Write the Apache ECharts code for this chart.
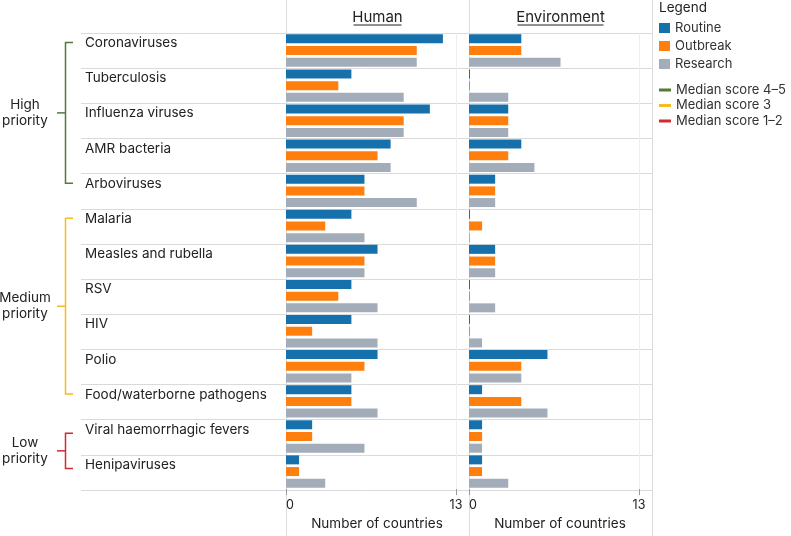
<!DOCTYPE html>
<html>
<head>
<meta charset="utf-8">
<script src="https://cdn.jsdelivr.net/npm/echarts@6/dist/echarts.min.js"></script>
<style>
html,body{margin:0;padding:0;background:#fff;}
#chart{width:791px;height:536px;}
</style>
</head>
<body>
<div id="chart"></div>
<script>
const categories = ['Coronaviruses','Tuberculosis','Influenza viruses','AMR bacteria','Arboviruses','Malaria','Measles and rubella','RSV','HIV','Polio','Food/waterborne pathogens','Viral haemorrhagic fevers','Henipaviruses'];
const humanRoutine  = [12,5,11,8,6,5,7,5,5,7,5,2,1];
const humanOutbreak = [10,4,9,7,6,3,6,4,2,6,5,2,1];
const humanResearch = [10,9,9,8,10,6,6,7,7,5,7,6,3];
const envRoutine    = [4,0,3,4,2,0,2,0,0,6,1,1,1];
const envOutbreak   = [4,0,3,3,2,1,2,0,0,4,4,1,1];
const envResearch   = [7,3,3,5,2,0,2,2,1,4,6,1,3];
const xTicks = [0, 13];
const panelTitles = ['Human', 'Environment'];
const seriesNames = ['Routine','Outbreak','Research'];
const medianNames = ['Median score 4–5','Median score 3','Median score 1–2'];
const priorityGroups = [
  {label:'High\npriority', from:'Coronaviruses', to:'Arboviruses', color:'#557a36', off:-8},
  {label:'Medium\npriority', from:'Malaria', to:'Food/waterborne pathogens', color:'#f5bd1f', off:-8},
  {label:'Low\npriority', from:'Viral haemorrhagic fevers', to:'Henipaviruses', color:'#d12a2f', off:-4}
];

const FONT = 'Inter';
const TXT = '#222';
const colors = ['#1570ab','#ff7f0e','#a3acb9'];
const chart = echarts.init(document.getElementById('chart'));

function xAxisFor(grid){
  return {
    gridIndex: grid, type:'value', min:xTicks[0], max:xTicks[1], interval:xTicks[1]-xTicks[0],
    axisLine:{show:false},
    axisTick:{show:true, length:6, lineStyle:{color:'#999'}},
    splitLine:{show:true, lineStyle:{color:'#eeeeee'}},
    axisLabel:{fontFamily:FONT, fontSize:12.5, color:TXT, margin:10, alignMinLabel:'left', alignMaxLabel:'center'},
    name:'Number of countries', nameLocation:'middle', nameGap:20,
    nameTextStyle:{fontFamily:FONT, fontSize:13.5, color:TXT, padding:[0,0,0,12]}
  };
}
function yAxisFor(grid){
  return {gridIndex:grid, type:'category', data:categories, inverse:true, show:false};
}
function barSeries(name, data, xi, ci){
  return {name:name, type:'bar', xAxisIndex:xi, yAxisIndex:xi, data:data,
    barWidth:9, barGap:'30%', barMinHeight:1, itemStyle:{color:colors[ci]}, silent:true, animation:false};
}

const option = {
  animation:false,
  textStyle:{fontFamily:FONT},
  title:[{text:'Legend', left:659, top:1, padding:0, textStyle:{fontFamily:FONT, fontSize:13.5, fontWeight:'normal', color:TXT}}],
  grid:[
    {left:81, top:33, width:571, height:457},
    {left:286, top:33, width:170, height:457},
    {left:469, top:33, width:170, height:457}
  ],
  xAxis:[
    {gridIndex:0, type:'value', min:0, max:1, show:false},
    xAxisFor(1), xAxisFor(2)
  ],
  yAxis:[
    {gridIndex:0, type:'category', data:categories, inverse:true,
     axisLine:{show:false}, axisTick:{show:false},
     splitLine:{show:true, interval:0, lineStyle:{color:'#dadada'}},
     axisLabel:{inside:true, margin:4, interval:0, fontFamily:FONT, fontSize:13.5, color:TXT, verticalAlign:'bottom', lineHeight:15}},
    yAxisFor(1), yAxisFor(2)
  ],
  legend:[
    {data:seriesNames, orient:'vertical', left:657, top:19, padding:[2,2,2,2], icon:'rect', itemWidth:11, itemHeight:10, itemGap:4,
     selectedMode:false, textStyle:{fontFamily:FONT, fontSize:13, color:'#333', lineHeight:14}},
    {data:medianNames, orient:'vertical', left:657, top:81, padding:[2,2,2,2], icon:'rect', itemWidth:12, itemHeight:3, itemGap:1.5,
     selectedMode:false, textStyle:{fontFamily:FONT, fontSize:13, color:'#333', lineHeight:14}}
  ],
  series:[
    barSeries('Routine', humanRoutine, 1, 0),
    barSeries('Outbreak', humanOutbreak, 1, 1),
    barSeries('Research', humanResearch, 1, 2),
    barSeries('Routine', envRoutine, 2, 0),
    barSeries('Outbreak', envOutbreak, 2, 1),
    barSeries('Research', envResearch, 2, 2)
  ].concat(priorityGroups.map((g,i)=>({name:medianNames[i], type:'line', data:[], xAxisIndex:0, yAxisIndex:0, color:g.color, itemStyle:{color:g.color}, lineStyle:{color:g.color}})))
};
chart.setOption(option);

// decorations built from axis conversions
const graphics = [];
const sepColor = '#dddddd';
const x0h = chart.convertToPixel({xAxisIndex:1}, 0);
const x0e = chart.convertToPixel({xAxisIndex:2}, 0);
const xEnd = 652;
[x0h, x0e - 0.5, xEnd].forEach(x=>{
  graphics.push({type:'line', silent:true, z:0, shape:{x1:Math.round(x)+0.5, y1:0, x2:Math.round(x)+0.5, y2:536}, style:{stroke:sepColor, lineWidth:1}});
});
const panelCenters = [(x0h + x0e)/2, (x0e + xEnd)/2];
const titleWidths = [48, 86];
panelTitles.forEach((t,i)=>{
  graphics.push({type:'text', silent:true, x:panelCenters[i], y:17, style:{text:t, fontFamily:FONT, fontSize:15, fill:TXT, align:'center', verticalAlign:'middle'}});
  graphics.push({type:'line', silent:true, shape:{x1:panelCenters[i]-titleWidths[i]/2, y1:25, x2:panelCenters[i]+titleWidths[i]/2, y2:25}, style:{stroke:TXT, lineWidth:1}});
});
priorityGroups.forEach(g=>{
  const yt = chart.convertToPixel({yAxisIndex:0}, g.from) + g.off;
  const yb = chart.convertToPixel({yAxisIndex:0}, g.to) + g.off;
  const ym = (yt + yb)/2;
  const bx = 65.5;
  graphics.push({type:'polyline', silent:true, shape:{points:[[73,yt],[bx,yt],[bx,yb],[73,yb]]}, style:{stroke:g.color, lineWidth:1.5, fill:null}});
  graphics.push({type:'line', silent:true, shape:{x1:57, y1:ym, x2:bx, y2:ym}, style:{stroke:g.color, lineWidth:1.5}});
  graphics.push({type:'text', silent:true, x:25, y:ym, style:{text:g.label, fontFamily:FONT, fontSize:13.5, lineHeight:16, fill:TXT, align:'center', verticalAlign:'middle'}});
});
chart.setOption({graphic:graphics});
</script>
</body>
</html>
